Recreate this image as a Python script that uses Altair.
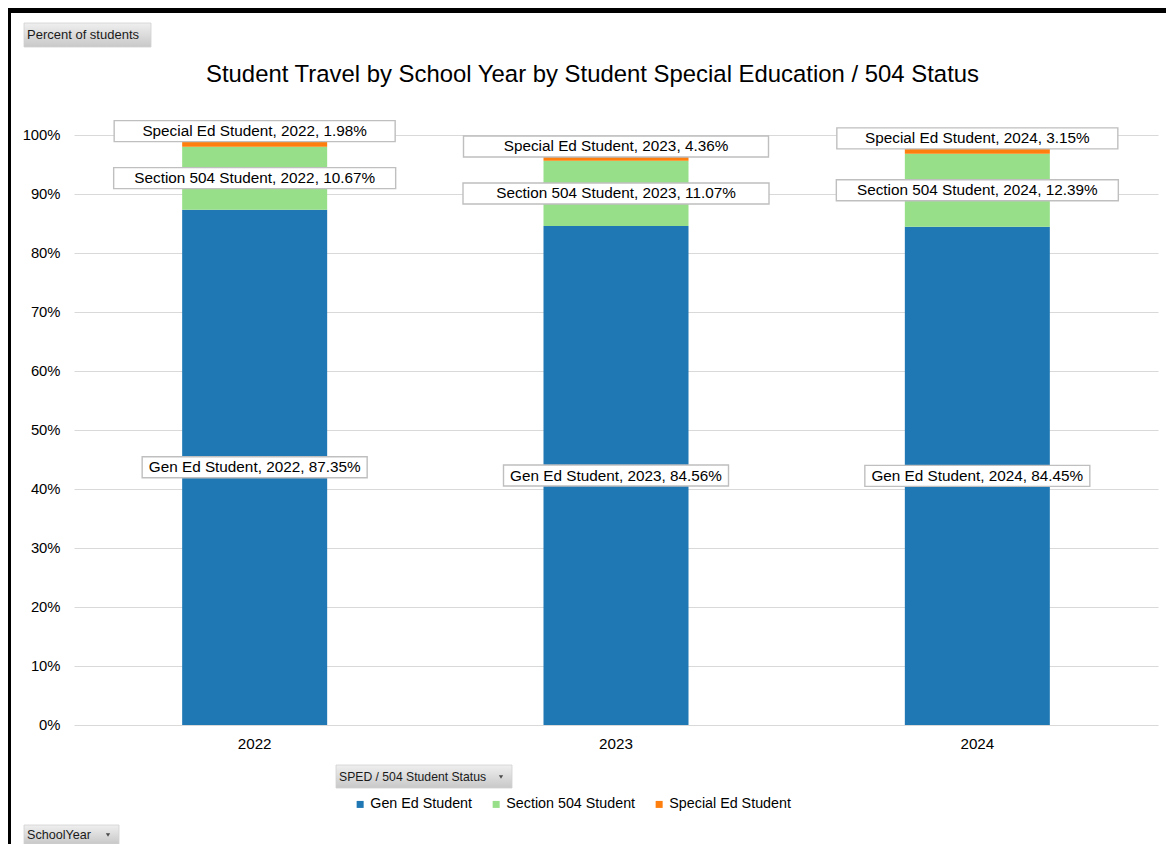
import altair as alt
import pandas as pd

# ---------------- data ----------------
years = ["2022", "2023", "2024"]
statuses = ["Gen Ed Student", "Section 504 Student", "Special Ed Student"]
colors = ["#1F77B4", "#98DF8A", "#FF7F0E"]

# visible segment heights (percent)
gen_ed = [87.35, 84.56, 84.45]
sec504 = [10.67, 11.07, 12.39]
sped_bar = [0.85, 0.65, 0.80]

# values printed in the data labels
gen_lbl = [87.35, 84.56, 84.45]
sec504_lbl = [10.67, 11.07, 12.39]
sped_lbl = [1.98, 4.36, 3.15]

y_ticks = [0, 10, 20, 30, 40, 50, 60, 70, 80, 90, 100]
buttons = ["Percent of students", "SPED / 504 Student Status", "SchoolYear"]
title_text = "Student Travel by School Year by Student Special Education / 504 Status"

# ---------------- tables ----------------
rows = []
for i, yr in enumerate(years):
    g, s5, sp = gen_ed[i], sec504[i], sped_bar[i]
    rows += [
        dict(year=yr, status=statuses[0], base=0.0, top=g),
        dict(year=yr, status=statuses[1], base=g, top=g + s5),
        dict(year=yr, status=statuses[2], base=g + s5, top=g + s5 + sp),
    ]
bars_df = pd.DataFrame(rows)

lab_rows = []
for i, yr in enumerate(years):
    g, s5, sp = gen_ed[i], sec504[i], sped_bar[i]
    grp = "wide" if yr == "2023" else "std"
    lab_rows += [
        dict(year=yr, kind="mid", grp="gen", yv=g / 2,
             text=f"{statuses[0]}, {yr}, {gen_lbl[i]:.2f}%"),
        dict(year=yr, kind="mid", grp=grp, yv=g + s5 / 2,
             text=f"{statuses[1]}, {yr}, {sec504_lbl[i]:.2f}%"),
        dict(year=yr, kind="top", grp=grp, yv=g + s5 + sp,
             text=f"{statuses[2]}, {yr}, {sped_lbl[i]:.2f}%"),
    ]
lab_df = pd.DataFrame(lab_rows)

FONT = "Liberation Sans"
BTN_FONT = "Liberation Sans"

X = alt.X("year:N", scale=alt.Scale(domain=years, paddingInner=0, paddingOuter=0),
          axis=alt.Axis(title=None, labelAngle=0, ticks=False, tickSize=0, domain=False,
                        labelFontSize=15.2, labelFont=FONT, labelColor="#000000",
                        labelPadding=11, grid=False))
YSCALE = alt.Scale(domain=[0, 100], nice=False, zero=True)
YAXIS = alt.Axis(title=None, values=y_ticks, labelExpr="datum.value + '%'",
                 ticks=False, tickSize=0, domain=False, labelFontSize=14.8,
                 labelFont=FONT, labelColor="#000000", labelPadding=14,
                 grid=True, gridColor="#D9D9D9", gridWidth=1)


def Y(field):
    return alt.Y(f"{field}:Q", scale=YSCALE, axis=YAXIS)


bars = alt.Chart(bars_df).mark_bar(width=145).encode(
    x=X,
    y=Y("base"),
    y2="top:Q",
    color=alt.Color("status:N", scale=alt.Scale(domain=statuses, range=colors),
                    legend=alt.Legend(title=None, orient="none", legendX=279, legendY=662,
                                      direction="horizontal", symbolType="square",
                                      symbolSize=49, symbolStrokeWidth=0,
                                      labelFontSize=14.3, labelFont=FONT,
                                      labelColor="#000000", labelOffset=3,
                                      columnPadding=16, padding=0)),
)


def box(kind, grp, w):
    off = (-10.5, 10.5) if kind == "mid" else (-21, 0)
    return alt.Chart(lab_df).transform_filter(
        (alt.datum.kind == kind) & (alt.datum.grp == grp)
    ).mark_bar(width=w, fill="white", stroke="#BFBFBF", strokeWidth=1.4,
               yOffset=off[0], y2Offset=off[1]).encode(x=X, y=Y("yv"), y2="yv:Q")


def txt(kind):
    dy = 0 if kind == "mid" else -10.5
    return alt.Chart(lab_df).transform_filter(alt.datum.kind == kind).mark_text(
        font=FONT, fontSize=15.3, color="#000000", dy=dy, baseline="middle", align="center"
    ).encode(x=X, y=Y("yv"), text="text:N")


boxes = [
    box("mid", "gen", 225),
    box("mid", "std", 282),
    box("mid", "wide", 306),
    box("top", "std", 281),
    box("top", "wide", 305),
]
texts = [txt("mid"), txt("top")]

one = pd.DataFrame({"k": [0]})
btn_fill = alt.LinearGradient(
    gradient="linear",
    stops=[alt.GradientStop(color="#EFEFEF", offset=0),
           alt.GradientStop(color="#C8C8C8", offset=1)],
    x1=0, x2=0, y1=0, y2=1)


def button(label, x0, x1, y0, y1, arrow_x=None, fs=12.3):
    layers = [
        alt.Chart(one).mark_rect(fill=btn_fill, stroke="#D0D0D0", strokeWidth=0.8).encode(
            x=alt.value(x0), x2=alt.value(x1), y=alt.value(y0), y2=alt.value(y1)),
        alt.Chart(one).mark_text(text=label, font=BTN_FONT, fontSize=fs, color="#1A1A1A",
                                 align="left", baseline="middle").encode(
            x=alt.value(x0 + 3), y=alt.value((y0 + y1) / 2)),
    ]
    if arrow_x is not None:
        layers.append(alt.Chart(one).mark_point(shape="triangle-down", filled=True, size=18,
                                                color="#4A4A4A", opacity=1).encode(
            x=alt.value(arrow_x), y=alt.value((y0 + y1) / 2 + 0.5)))
    return layers


btn_layers = []
btn_layers += button(buttons[0], -50, 77, -112, -88, fs=13)
btn_layers += button(buttons[1], 262, 438, 630, 653, arrow_x=427, fs=12.2)
btn_layers += button(buttons[2], -50, 45, 690, 709, arrow_x=34, fs=12.6)

title = alt.Chart(one).mark_text(text=title_text, font=FONT, fontSize=23.9, color="#000000",
                                 align="center", baseline="alphabetic").encode(
    x=alt.value(518.5), y=alt.value(-53.5))

border = [
    alt.Chart(one).mark_rect(color="#000000").encode(
        x=alt.value(-66), x2=alt.value(1092), y=alt.value(-127), y2=alt.value(-122)),
    alt.Chart(one).mark_rect(color="#000000").encode(
        x=alt.value(-66), x2=alt.value(-63), y=alt.value(-127), y2=alt.value(709)),
]

chart = alt.layer(bars, *boxes, *texts, title, *btn_layers, *border).properties(
    width=1084, height=590,
    autosize=alt.AutoSizeParams(type="none"),
    padding={"left": 66, "top": 127, "right": 8, "bottom": 119},
    background="white",
).configure_view(stroke=None)

chart.save("out.html", embed_options={"renderer": "svg", "actions": False})
